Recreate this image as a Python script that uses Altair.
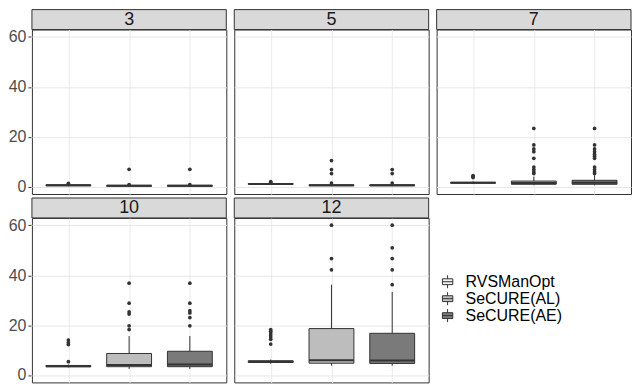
import altair as alt
import pandas as pd

panels = ["3", "5", "7", "10", "12"]
methods = ["RVSManOpt", "SeCURE(AL)", "SeCURE(AE)"]
fills = ["#f2f2f2", "#bdbdbd", "#7a7a7a"]

# box statistics, one row per panel, one entry per method
lower = [[0.1, 0.0, 0.0], [0.6, 0.1, 0.1], [1.0, 0.5, 0.5], [3.0, 2.4, 2.4], [4.5, 3.7, 3.7]]
q1 = [[0.3, 0.1, 0.1], [0.9, 0.3, 0.3], [1.3, 0.9, 0.9], [3.3, 3.3, 3.3], [5.0, 4.7, 4.6]]
median = [[0.5, 0.3, 0.3], [1.0, 0.5, 0.5], [1.5, 1.4, 1.5], [3.5, 4.0, 4.2], [5.3, 5.9, 5.8]]
q3 = [[0.7, 0.5, 0.5], [1.2, 0.7, 0.7], [1.7, 2.2, 2.5], [3.8, 8.6, 9.5], [5.7, 18.6, 16.7]]
upper = [[1.0, 0.6, 0.6], [1.4, 1.0, 1.0], [2.1, 4.0, 4.5], [4.2, 15.6, 15.6], [6.2, 36.2, 33.3]]
outliers = [
    [[1.3], [0.8, 6.9], [0.8, 6.9]],
    [[1.7, 2.0], [1.4, 5.2, 6.8, 10.4], [1.4, 5.2, 6.8]],
    [[3.6, 4.0, 4.4],
     [5.2, 5.9, 6.8, 7.8, 11.3, 14.0, 15.1, 16.7, 23.3],
     [5.2, 5.9, 6.8, 7.8, 11.3, 12.2, 13.0, 14.0, 15.1, 16.7, 23.3]],
    [[5.3, 12.2, 13.0, 14.0],
     [18.2, 19.7, 24.4, 25.3, 28.8, 36.8],
     [19.7, 23.0, 24.9, 25.8, 28.8, 36.8]],
    [[12.4, 14.3, 15.2, 16.0, 16.8, 17.5, 18.2],
     [42.2, 46.7, 60.1],
     [36.2, 42.2, 46.7, 51.0, 60.1]],
]

rows = []
for i, p in enumerate(panels):
    for j, m in enumerate(methods):
        rows.append(dict(panel=p, method=m, kind="box", lo=lower[i][j], q1=q1[i][j],
                         med=median[i][j], q3=q3[i][j], hi=upper[i][j], value=None))
        for v in outliers[i][j]:
            rows.append(dict(panel=p, method=m, kind="out", lo=None, q1=None, med=None,
                             q3=None, hi=None, value=v))
df = pd.DataFrame(rows)

W, H = 195, 165
BOXW = 45
DARK = "#333333"

x_enc = alt.X("method:N", sort=methods,
              scale=alt.Scale(type="point", padding=0.6, domain=methods),
              axis=alt.Axis(labels=False, ticks=False, domain=False, title=None,
                            grid=True, gridColor="#ebebeb", gridWidth=1))
yscale = alt.Scale(domain=[-3, 63], nice=False, zero=False)
yaxis = alt.Axis(values=[0, 10, 20, 30, 40, 50, 60], title=None, domain=False,
                 labelExpr="datum.value % 20 == 0 ? datum.label : ''",
                 labelFontSize=16, labelColor="#4d4d4d", labelPadding=2,
                 tickSize=3, tickColor=DARK,
                 tickOpacity={"condition": {"test": "datum.value % 20 !== 0", "value": 0}, "value": 1},
                 gridColor={"condition": {"test": "datum.value % 20 !== 0", "value": "#f5f5f5"}, "value": "#e6e6e6"},
                 gridWidth=1)

box_path = "M-0.8,-0.45H0.8V0.45H-0.8Z M-0.8,0H0.8 M0,-0.45V-1 M0,0.45V1"

base = alt.Chart()

whisk = base.mark_rule(color=DARK, strokeWidth=1).encode(
    x=x_enc,
    y=alt.Y("lo:Q", scale=yscale, axis=yaxis),
    y2="hi:Q",
).transform_filter("datum.kind == 'box'")

box = base.mark_bar(size=BOXW, stroke=DARK, strokeWidth=1, opacity=1).encode(
    x=x_enc,
    y=alt.Y("q1:Q", scale=yscale),
    y2="q3:Q",
    fill=alt.Fill("method:N", sort=methods,
                  scale=alt.Scale(domain=methods, range=fills),
                  legend=alt.Legend(title=None, orient="none", legendX=409, legendY=245,
                                    symbolType=box_path, symbolSize=170,
                                    symbolStrokeColor=DARK, symbolStrokeWidth=1,
                                    labelFontSize=16, labelColor="#000000",
                                    rowPadding=-2, padding=0, labelOffset=10)),
).transform_filter("datum.kind == 'box'")

med = base.mark_tick(size=BOXW, thickness=2, color=DARK, opacity=1).encode(
    x=x_enc,
    y=alt.Y("med:Q", scale=yscale),
).transform_filter("datum.kind == 'box'")

pts = base.mark_circle(size=14, color=DARK, opacity=1).encode(
    x=x_enc,
    y=alt.Y("value:Q", scale=yscale),
).transform_filter("datum.kind == 'out'")

strip = base.mark_rect(fill="#d9d9d9", stroke=DARK, strokeWidth=1).encode(
    x=alt.value(0), x2=alt.value(W), y=alt.value(-20), y2=alt.value(0)
).transform_aggregate(n="count()", groupby=["panel"])

strip_text = base.mark_text(fontSize=18, color="#1a1a1a", baseline="middle", align="center").encode(
    x=alt.value(W / 2), y=alt.value(-10), text="panel:N"
).transform_aggregate(n="count()", groupby=["panel"])

layered = alt.layer(whisk, box, med, pts, strip, strip_text, data=df).properties(width=W, height=H)

chart = layered.facet(
    facet=alt.Facet("panel:N", sort=panels, title=None,
                    header=alt.Header(labels=False, title=None, labelFontSize=0, labelPadding=0)),
    columns=3,
    spacing={"row": 2, "column": 6},
).resolve_scale(y="shared").configure(
    font="Liberation Sans", padding=0
).configure_view(
    stroke=DARK, strokeWidth=1, fill="white"
).configure_header(labels=False, title=None, labelFontSize=0, labelPadding=0)

chart.save("out.html", embed_options={"renderer": "svg", "actions": False})
